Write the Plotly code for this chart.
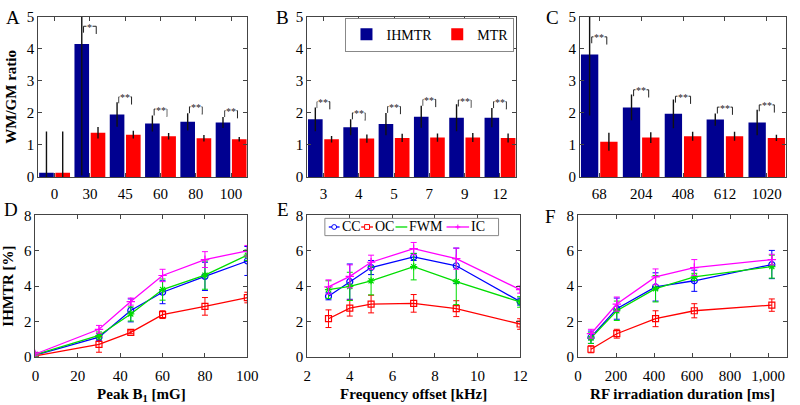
import plotly.graph_objects as go

# ---------------- data ----------------
# Panel A (peak B1 groups)
a_labels = ["0", "30", "45", "60", "80", "100"]
a_ihmtr = [0.13, 4.15, 1.95, 1.67, 1.72, 1.70]
a_ihmtr_err = [1.29, 4.10, 0.38, 0.25, 0.27, 0.17]
a_mtr = [0.13, 1.38, 1.32, 1.27, 1.21, 1.18]
a_mtr_err = [1.29, 0.18, 0.12, 0.10, 0.10, 0.07]
a_sig = ["", "*", "**", "**", "**", "**"]

# Panel B (frequency offset groups)
b_labels = ["3", "4", "5", "7", "9", "12"]
b_ihmtr = [1.80, 1.55, 1.65, 1.88, 1.85, 1.85]
b_ihmtr_err = [0.37, 0.25, 0.35, 0.34, 0.42, 0.30]
b_mtr = [1.18, 1.20, 1.22, 1.23, 1.23, 1.22]
b_mtr_err = [0.10, 0.13, 0.13, 0.13, 0.14, 0.14]
b_sig = ["**", "**", "**", "**", "**", "**"]

# Panel C (RF duration groups)
c_labels = ["68", "204", "408", "612", "1020"]
c_ihmtr = [3.82, 2.17, 1.97, 1.79, 1.70]
c_ihmtr_err = [1.90, 0.40, 0.45, 0.19, 0.40]
c_mtr = [1.10, 1.23, 1.27, 1.27, 1.22]
c_mtr_err = [0.28, 0.17, 0.14, 0.14, 0.10]
c_sig = ["**", "**", "**", "**", "**"]

# Panel D (IHMTR vs peak B1)
d_x = [0, 30, 45, 60, 80, 100]
d_cc = [0.08, 1.10, 2.62, 3.65, 4.55, 5.42]
d_cc_err = [0.08, 0.20, 0.65, 0.65, 0.80, 0.82]
d_oc = [0.05, 0.70, 1.38, 2.38, 2.85, 3.35]
d_oc_err = [0.05, 0.45, 0.08, 0.22, 0.50, 0.30]
d_fwm = [0.12, 1.20, 2.42, 3.80, 4.62, 5.75]
d_fwm_err = [0.10, 0.20, 0.40, 0.60, 0.80, 0.30]
d_ic = [0.15, 1.55, 3.12, 4.60, 5.50, 6.00]
d_ic_err = [0.10, 0.22, 0.20, 0.35, 0.45, 0.30]

# Panel E (IHMTR vs frequency offset)
e_x = [3, 4, 5, 7, 9, 12]
e_cc = [3.42, 4.25, 5.05, 5.65, 5.15, 3.12]
e_cc_err = [0.20, 1.00, 0.40, 0.20, 1.00, 0.20]
e_oc = [2.15, 2.75, 2.98, 3.02, 2.72, 1.85]
e_oc_err = [0.50, 0.45, 0.50, 0.50, 0.45, 0.30]
e_fwm = [3.80, 3.98, 4.30, 5.10, 4.25, 3.10]
e_fwm_err = [0.50, 0.80, 0.80, 0.75, 1.30, 0.30]
e_ic = [3.95, 4.55, 5.35, 6.12, 5.55, 3.80]
e_ic_err = [0.40, 0.65, 0.40, 0.35, 0.60, 0.20]

# Panel F (IHMTR vs RF irradiation duration)
f_x = [68, 204, 408, 612, 1020]
f_cc = [1.10, 2.72, 3.95, 4.30, 5.22]
f_cc_err = [0.35, 0.60, 0.80, 0.60, 0.80]
f_oc = [0.42, 1.30, 2.15, 2.60, 2.92]
f_oc_err = [0.20, 0.25, 0.45, 0.40, 0.35]
f_fwm = [1.05, 2.60, 3.85, 4.52, 5.10]
f_fwm_err = [0.30, 0.55, 0.75, 0.20, 0.65]
f_ic = [1.30, 2.98, 4.52, 5.05, 5.50]
f_ic_err = [0.25, 0.40, 0.45, 0.45, 0.30]

series_names = ["CC", "OC", "FWM", "IC"]

# ---------------- style ----------------
FONT = "Liberation Serif, Times New Roman, serif"
NAVY = "#000090"
RED_BAR = "#FF0000"
AX_COLOR = "#444444"
series_style = {
    "CC": dict(color="#0000FF", symbol="circle-open"),
    "OC": dict(color="#FF0000", symbol="square-open"),
    "FWM": dict(color="#00DD00", symbol="asterisk-open"),
    "IC": dict(color="#FF00FF", symbol="cross-thin-open"),
}
W, H = 800, 405


def px_x(a, b):
    return [a / W, b / W]


def px_y(top, bottom):
    return [1 - bottom / H, 1 - top / H]


fig = go.Figure()

BAR_HALF = 0.23  # half of group slot (matches bargap)


def add_bar_panel(idx, labels, ih, ih_err, mt, mt_err, sig, showlegend):
    xs = list(range(len(labels)))
    xa = "x" if idx == 1 else f"x{idx}"
    ya = "y" if idx == 1 else f"y{idx}"
    fig.add_trace(go.Bar(x=xs, y=ih, name="IHMTR", marker_color=NAVY,
                         marker_line_width=0, xaxis=xa, yaxis=ya,
                         showlegend=showlegend,
                         error_y=dict(type="data", array=ih_err, color="#111111",
                                      thickness=1.4, width=0)))
    fig.add_trace(go.Bar(x=xs, y=mt, name="MTR", marker_color=RED_BAR,
                         marker_line_width=0, xaxis=xa, yaxis=ya,
                         showlegend=showlegend,
                         error_y=dict(type="data", array=mt_err, color="#111111",
                                      thickness=1.4, width=0)))
    # significance brackets, derived from the data
    for i, s in enumerate(sig):
        if not s:
            continue
        base = ih[i] + min(ih_err[i], 0.35)
        top = base + 0.2
        xl = i - BAR_HALF + 0.05
        xr = i + BAR_HALF - 0.05
        fig.add_shape(type="path",
                      path=f"M {xl},{base} L {xl},{top} L {xr},{top} L {xr},{base - 0.04}",
                      xref=xa, yref=ya, line=dict(color="#222222", width=1))
        fig.add_annotation(x=(xl + xr) / 2, y=top, xref=xa, yref=ya, text=s,
                           showarrow=False, bgcolor="white", borderpad=0,
                           font=dict(family=FONT, size=10, color="#222222"),
                           yanchor="middle", yshift=-1)


add_bar_panel(1, a_labels, a_ihmtr, a_ihmtr_err, a_mtr, a_mtr_err, a_sig, True)
add_bar_panel(2, b_labels, b_ihmtr, b_ihmtr_err, b_mtr, b_mtr_err, b_sig, False)
add_bar_panel(3, c_labels, c_ihmtr, c_ihmtr_err, c_mtr, c_mtr_err, c_sig, False)


def add_line_panel(idx, x, data):
    xa = f"x{idx}"
    ya = f"y{idx}"
    for name, (vals, errs) in zip(series_names, data):
        st = series_style[name]
        fig.add_trace(go.Scatter(
            x=x, y=vals, name=name, mode="lines+markers", xaxis=xa, yaxis=ya,
            line=dict(color=st["color"], width=1.3),
            marker=dict(symbol=st["symbol"], size=6, color=st["color"],
                        line=dict(width=1.2, color=st["color"])),
            error_y=dict(type="data", array=errs, color=st["color"],
                         thickness=1, width=3),
            showlegend=False))


add_line_panel(4, d_x, [(d_cc, d_cc_err), (d_oc, d_oc_err), (d_fwm, d_fwm_err), (d_ic, d_ic_err)])
add_line_panel(5, e_x, [(e_cc, e_cc_err), (e_oc, e_oc_err), (e_fwm, e_fwm_err), (e_ic, e_ic_err)])
add_line_panel(6, f_x, [(f_cc, f_cc_err), (f_oc, f_oc_err), (f_fwm, f_fwm_err), (f_ic, f_ic_err)])

# ---- compact legend box for panel E (line + marker glyph + label) ----
leg_box = dict(x0=327, x1=504, y0=219, y1=237)
leg_items = {  # pixel layout of each entry: line start, line end, label start
    "CC": (331, 342, 343),
    "OC": (364, 376, 377),
    "FWM": (399, 411, 412),
    "IC": (451, 474, 475),
}
fig.add_shape(type="rect", xref="paper", yref="paper",
              x0=leg_box["x0"] / W, x1=leg_box["x1"] / W,
              y0=1 - leg_box["y1"] / H, y1=1 - leg_box["y0"] / H,
              line=dict(color="#888888", width=1), fillcolor="white", layer="above")
ly = (leg_box["y0"] + leg_box["y1"]) / 2
for name in series_names:
    st = series_style[name]
    x0, x1, xt = leg_items[name]
    c = st["color"]
    fig.add_shape(type="line", xref="paper", yref="paper",
                  x0=x0 / W, x1=x1 / W, y0=1 - ly / H, y1=1 - ly / H,
                  line=dict(color=c, width=1.3), layer="above")
    xm = (x0 + x1) / 2
    r = 2.5
    if name == "CC":
        fig.add_shape(type="circle", xref="paper", yref="paper",
                      x0=(xm - r) / W, x1=(xm + r) / W, y0=1 - (ly + r) / H, y1=1 - (ly - r) / H,
                      line=dict(color=c, width=1), fillcolor="white", layer="above")
    elif name == "OC":
        fig.add_shape(type="rect", xref="paper", yref="paper",
                      x0=(xm - r) / W, x1=(xm + r) / W, y0=1 - (ly + r) / H, y1=1 - (ly - r) / H,
                      line=dict(color=c, width=1), fillcolor="white", layer="above")
    elif name == "IC":
        for dx, dy in [(r, 0), (0, r)]:
            fig.add_shape(type="line", xref="paper", yref="paper",
                          x0=(xm - dx) / W, x1=(xm + dx) / W,
                          y0=1 - (ly - dy) / H, y1=1 - (ly + dy) / H,
                          line=dict(color=c, width=1), layer="above")
    fig.add_annotation(x=xt / W, y=1 - ly / H, xref="paper", yref="paper",
                       text=name, showarrow=False, xanchor="left", yanchor="middle",
                       font=dict(family=FONT, size=14, color="black"), borderpad=0)

tickfont = dict(family=FONT, size=15, color="black")
titlefont = dict(family=FONT, size=15, color="black")
axis_common = dict(showline=True, linecolor=AX_COLOR, linewidth=1, mirror="ticks",
                   ticks="inside", ticklen=4, tickcolor=AX_COLOR, showgrid=False,
                   zeroline=False, tickfont=tickfont)

layout_axes = {}
# bar panels
layout_axes["xaxis"] = dict(axis_common, domain=px_x(35, 248), anchor="y",
                            range=[-0.46, 5.46], tickvals=list(range(len(a_labels))),
                            ticktext=a_labels, ticklabelstandoff=3)
layout_axes["yaxis"] = dict(axis_common, domain=px_y(9, 176), anchor="x",
                            range=[0, 5], dtick=1,
                            title=dict(text="<b>WM/GM ratio</b>", font=titlefont, standoff=6))
layout_axes["xaxis2"] = dict(axis_common, domain=px_x(309, 522), anchor="y2",
                             range=[-0.46, 5.46], tickvals=list(range(len(b_labels))),
                             ticktext=b_labels, ticklabelstandoff=3)
layout_axes["yaxis2"] = dict(axis_common, domain=px_y(9, 176), anchor="x2",
                             range=[0, 5], dtick=1)
layout_axes["xaxis3"] = dict(axis_common, domain=px_x(587, 797), anchor="y3",
                             range=[-0.46, 4.46], tickvals=list(range(len(c_labels))),
                             ticktext=c_labels, ticklabelstandoff=3)
layout_axes["yaxis3"] = dict(axis_common, domain=px_y(9, 176), anchor="x3",
                             range=[0, 5], dtick=1)
# line panels
layout_axes["xaxis4"] = dict(axis_common, domain=px_x(32, 248), anchor="y4",
                             range=[0, 100], dtick=20, ticklabelstandoff=5,
                             title=dict(text="<b>Peak B<sub>1</sub> [mG]</b>", font=titlefont, standoff=5))
layout_axes["yaxis4"] = dict(axis_common, domain=px_y(216, 363), anchor="x4",
                             range=[0, 8], dtick=2,
                             title=dict(text="<b>IHMTR [%]</b>", font=titlefont, standoff=6))
layout_axes["xaxis5"] = dict(axis_common, domain=px_x(309, 526), anchor="y5",
                             range=[2, 12], dtick=2, ticklabelstandoff=5,
                             title=dict(text="<b>Frequency offset [kHz]</b>", font=titlefont, standoff=5))
layout_axes["yaxis5"] = dict(axis_common, domain=px_y(216, 363), anchor="x5",
                             range=[0, 8], dtick=2)
layout_axes["xaxis6"] = dict(axis_common, domain=px_x(585, 798), anchor="y6",
                             range=[0, 1100], tickvals=[0, 200, 400, 600, 800, 1000],
                             tickformat=",", ticklabelstandoff=5,
                             title=dict(text="<b>RF irradiation duration [ms]</b>", font=titlefont, standoff=5))
layout_axes["yaxis6"] = dict(axis_common, domain=px_y(216, 363), anchor="x6",
                             range=[0, 8], dtick=2)

fig.update_layout(
    width=W, height=H,
    margin=dict(l=0, r=0, t=0, b=0),
    paper_bgcolor="white", plot_bgcolor="white",
    barmode="group", bargap=0.08, bargroupgap=0.1,
    font=dict(family=FONT, size=14, color="black"),
    showlegend=True,
    legend=dict(x=348 / W, y=1 - 10 / H, xanchor="left", yanchor="top",
                orientation="h", bordercolor="#888888", borderwidth=1,
                bgcolor="white", font=dict(family=FONT, size=14),
                itemwidth=30, tracegroupgap=0),
    **layout_axes,
)

# panel letters
for letter, (lx, ly_) in {"A": (9, 10), "B": (284, 10), "C": (559, 10),
                          "D": (7, 210), "E": (284, 210), "F": (557, 217)}.items():
    fig.add_annotation(x=lx / W, y=1 - ly_ / H, xref="paper", yref="paper",
                       text=letter, showarrow=False,
                       font=dict(family=FONT, size=19, color="black"),
                       xanchor="center", yanchor="middle")

fig.write_html("out.html", config={"displayModeBar": False},
               post_script="document.body.style.margin='0px';")
